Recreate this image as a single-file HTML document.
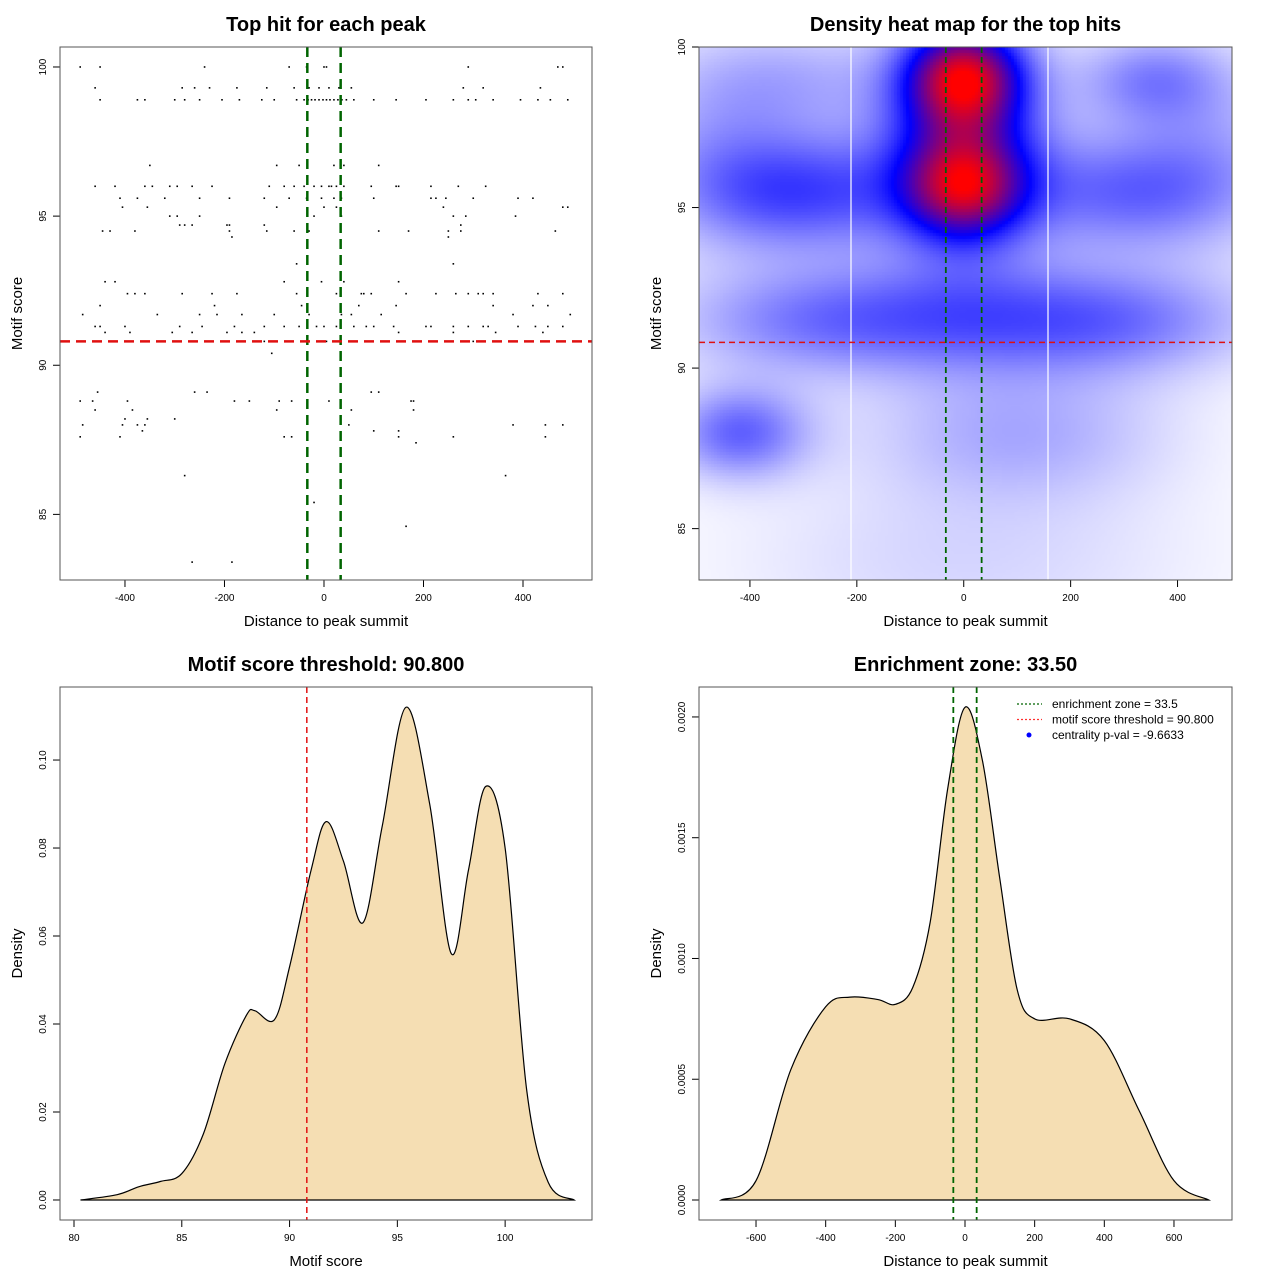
<!DOCTYPE html>
<html><head><meta charset="utf-8">
<style>
html,body{margin:0;padding:0;background:#fff;}
#wrap{position:relative;width:1280px;height:1280px;overflow:hidden;font-family:"Liberation Sans",sans-serif;}
#heat{position:absolute;left:699px;top:47px;width:533px;height:533px;}
svg{position:absolute;left:0;top:0;}
</style></head>
<body>
<div id="wrap">
<canvas id="heat" width="533" height="533"></canvas>
<svg id="svg" width="1280" height="1280" xmlns="http://www.w3.org/2000/svg"></svg>
</div>
<script>
// ---- scatter data (rows of motif score with distances) ----
const rowScores = [100,99.3,98.9,96.7,96,95.6,95.3,95,94.7,94.5,94.3,93.4,92.8,92.4,92,91.7,91.3,91.1,90.8,90.4,89.1,88.8,88.5,88.2,88,87.8,87.6,87.4,86.3,85.4,84.6,83.4];
const rowDistances = [
 [-490,-450,-240,-70,-35,0,5,290,470,480],
 [-460,-285,-260,-230,-175,-115,-60,-30,-10,10,30,55,280,320,435],
 [-450,-375,-360,-300,-280,-250,-205,-170,-125,-100,-55,-40,-32,-25,-18,-10,-2,5,12,20,28,36,45,60,100,145,205,260,290,305,340,395,430,455,490],
 [-350,-95,-50,20,40,110],
 [-460,-420,-360,-345,-310,-295,-265,-225,-110,-80,-60,-40,-20,-5,10,15,25,40,95,145,150,215,270,325],
 [-410,-375,-320,-250,-190,-120,-70,-35,-5,20,35,100,215,225,245,300,390,420],
 [-405,-355,-95,0,25,240,480,490],
 [-310,-295,-250,-20,35,260,285,385],
 [-290,-280,-265,-195,-190,-120,275],
 [-445,-430,-380,-190,-115,-60,-30,110,170,250,275,465],
 [-185,250],
 [-55,260],
 [-440,-420,-80,-5,40,150],
 [-395,-380,-360,-285,-225,-175,-55,25,75,80,95,165,225,265,290,310,320,340,430,480],
 [-450,-220,-45,70,145,340,420,450],
 [-485,-335,-250,-215,-165,-100,-30,35,55,115,380,495],
 [-460,-450,-400,-290,-245,-180,-120,-80,-50,-15,0,25,60,85,100,140,205,215,260,290,320,330,390,425,450,480],
 [-440,-390,-305,-265,-195,-165,-140,150,260,345,440],
 [-400,-270,-120,5,90,300,475],
 [-105],
 [-455,-260,-235,95,110],
 [-490,-465,-395,-180,-150,-90,-65,10,175,180],
 [-460,-385,-95,55,180],
 [-400,-355,-300],
 [-485,-405,-375,-360,50,380,445,480],
 [-365,100,150],
 [-490,-410,-80,-65,150,260,445],
 [185],
 [-280,365],
 [-20],
 [165],
 [-265,-185]
];
// ---- heatmap density blobs ----
const blobX = [0,0,0,-300,300,-250,250,0,-420,-320,350,100,0,-470,470];
const blobY = [99.1,95.6,97.3,95.5,95.5,91.5,91.5,92,88,99,99,88,84,97,97];
const blobW = [0.68,0.55,0.45,0.35,0.28,0.27,0.29,0.1,0.3,0.14,0.22,0.16,0.08,0.12,0.12];
const blobSX = [75,78,105,160,160,200,200,150,90,150,100,200,300,120,120];
const blobSY = [1.1,1.1,2.2,1.3,1.3,1.2,1.2,1.5,1.0,1.2,1.0,1.5,2.0,2.0,2.0];
// ---- motif score density ----
const scoreX = [80.3,82,83,84,85,86,87,88,88.4,89.3,90,91,91.7,92.5,93.4,94.3,95.4,96.5,97.5,98.3,99.1,100,101,102,103.2];
const scoreD = [0,0.0012,0.003,0.0042,0.006,0.015,0.031,0.042,0.043,0.041,0.053,0.075,0.086,0.077,0.063,0.085,0.112,0.09,0.056,0.075,0.094,0.08,0.025,0.004,0];
// ---- distance density ----
const distX = [-700,-600,-500,-400,-330,-250,-200,-150,-100,-50,0,50,100,150,200,300,400,500,600,700];
const distD = [0,0.00008,0.00054,0.0008,0.00084,0.00083,0.00081,0.00088,0.00115,0.0017,0.00204,0.00182,0.00133,0.00087,0.00075,0.00075,0.00066,0.00037,0.00008,0];
const xTicksDist = [-400,-200,0,200,400];
const xTicksDist2 = [-600,-400,-200,0,200,400,600];
const yTicksScore = [85,90,95,100];
const xTicksScore = [80,85,90,95,100];
const yTicksDens1 = [0,0.02,0.04,0.06,0.08,0.10];
const yTicksDens1Lbl = ["0.00","0.02","0.04","0.06","0.08","0.10"];
const yTicksDens2 = [0,0.0005,0.001,0.0015,0.002];
const yTicksDens2Lbl = ["0.0000","0.0005","0.0010","0.0015","0.0020"];
const zone = 33.5, thr = 90.8;

const NS="http://www.w3.org/2000/svg";
const svg=document.getElementById('svg');
function mk(tag,attrs,parent){const e=document.createElementNS(NS,tag);for(const k in attrs)e.setAttribute(k,attrs[k]);(parent||svg).appendChild(e);return e;}
function scale(d0,d1,r0,r1){return v=>r0+(v-d0)/(d1-d0)*(r1-r0);}

function frame(p,title,xlab,ylab,xt,xl,yt,yl,name){
  const g=mk('g',{});
  
  
  const t=mk('text',{x:(p.l+p.r)/2,y:p.t-16,'text-anchor':'middle','font-size':'20','font-weight':'bold',fill:'#000'},g);
  t.textContent=title;
  
  
  const xa=mk('text',{x:(p.l+p.r)/2,y:p.b+46,'text-anchor':'middle','font-size':'15',fill:'#000'},g);
  xa.textContent=xlab;
  
  
  const ya=mk('text',{x:0,y:0,transform:`translate(${p.l-38},${(p.t+p.b)/2}) rotate(-90)`,'text-anchor':'middle','font-size':'15',fill:'#000'},g);
  ya.textContent=ylab;
  
  
  const xg=mk('g',{},g);
  
  
  mk('line',{x1:p.sx(xt[0]),x2:p.sx(xt[xt.length-1]),y1:p.b,y2:p.b,stroke:'#000'},xg);
  xt.forEach((v,i)=>{const x=p.sx(v);mk('line',{x1:x,x2:x,y1:p.b,y2:p.b+7,stroke:'#000'},xg);
    const tx=mk('text',{x:x,y:p.b+21,'text-anchor':'middle','font-size':'10',fill:'#000'},xg);tx.textContent=xl[i];
    
    });
  const yg=mk('g',{},g);
  
  
  mk('line',{y1:p.sy(yt[0]),y2:p.sy(yt[yt.length-1]),x1:p.l,x2:p.l,stroke:'#000'},yg);
  yt.forEach((v,i)=>{const y=p.sy(v);mk('line',{y1:y,y2:y,x1:p.l,x2:p.l-7,stroke:'#000'},yg);
    const ty=mk('text',{x:0,y:0,transform:`translate(${p.l-14},${y}) rotate(-90)`,'text-anchor':'middle','font-size':'10',fill:'#000'},yg);ty.textContent=yl[i];
    
    });
  return g;
}
function box(p,g){const r=mk('rect',{x:p.l,y:p.t,width:p.r-p.l,height:p.b-p.t,fill:'none',stroke:'#555'},g);
  
  }
function smoothPath(pts){let d=`M${pts[0][0]},${pts[0][1]}`;
  for(let i=0;i<pts.length-1;i++){const p0=pts[Math.max(0,i-1)],p1=pts[i],p2=pts[i+1],p3=pts[Math.min(pts.length-1,i+2)];
    const c1=[p1[0]+(p2[0]-p0[0])/6,p1[1]+(p2[1]-p0[1])/6],c2=[p2[0]-(p3[0]-p1[0])/6,p2[1]-(p3[1]-p1[1])/6];
    d+=` C${c1[0]},${c1[1]} ${c2[0]},${c2[1]} ${p2[0]},${p2[1]}`;}
  return d;}

// Panel 1: scatter
const p1={l:60,r:592,t:47,b:580};p1.sx=scale(-530.6,538.7,60,592);p1.sy=scale(82.8,100.67,580,47);
const g1=frame(p1,'Top hit for each peak','Distance to peak summit','Motif score',xTicksDist,xTicksDist,yTicksScore,yTicksScore,'scatter-panel');
rowScores.forEach((s,i)=>rowDistances[i].forEach(d=>{const c=mk('rect',{x:p1.sx(d)-0.8,y:p1.sy(s)-0.8,width:1.6,height:1.6,fill:'#000'},g1);
  
  }));
[-zone,zone].forEach(z=>{const l=mk('line',{x1:p1.sx(z),x2:p1.sx(z),y1:p1.t,y2:p1.b,stroke:'#006400','stroke-width':2.5,'stroke-dasharray':'10,6'},g1);
  
  });
const rl1=mk('line',{x1:p1.l,x2:p1.r,y1:p1.sy(thr),y2:p1.sy(thr),stroke:'#e01010','stroke-width':2.5,'stroke-dasharray':'10,6'},g1);


box(p1,g1);

// Panel 2: heatmap
const p2={l:699,r:1232,t:47,b:580};p2.sx=scale(-495.3,501.9,699,1232);p2.sy=scale(83.4,100,580,47);
const g2=frame(p2,'Density heat map for the top hits','Distance to peak summit','Motif score',xTicksDist,xTicksDist,yTicksScore,yTicksScore,'heatmap-panel');
(function(){const cv=document.getElementById('heat');const ctx=cv.getContext('2d');const W=533,H=533;const img=ctx.createImageData(W,H);
  const xs=scale(699,1232,-495.3,501.9),ys=scale(47,580,100,83.4);
  const step=3;
  for(let py=0;py<H;py+=step)for(let px=0;px<W;px+=step){const X=xs(699+px+1),Y=ys(47+py+1);let d=0;
    for(let k=0;k<blobX.length;k++){const dx=(X-blobX[k])/blobSX[k],dy=(Y-blobY[k])/blobSY[k];d+=blobW[k]*Math.exp(-0.5*(dx*dx+dy*dy));}
    const t=Math.min(1,d);let r,g,b;
    if(t<0.5){const s=t/0.5;r=255*(1-s);g=255*(1-s);b=255;}else{const s=(t-0.5)/0.5;r=255*s;g=0;b=255*(1-s);}
    for(let yy=py;yy<Math.min(H,py+step);yy++)for(let xx=px;xx<Math.min(W,px+step);xx++){const o=(yy*W+xx)*4;img.data[o]=r;img.data[o+1]=g;img.data[o+2]=b;img.data[o+3]=255;}}
  ctx.putImageData(img,0,0);})();
[851,1048].forEach(x=>{const l=mk('line',{x1:x,x2:x,y1:p2.t,y2:p2.b,stroke:'#fff','stroke-width':1.2},g2);
  
  });
[-zone,zone].forEach(z=>{const l=mk('line',{x1:p2.sx(z),x2:p2.sx(z),y1:p2.t,y2:p2.b,stroke:'#006400','stroke-width':1.8,'stroke-dasharray':'6,4'},g2);
  
  });
const rl2=mk('line',{x1:p2.l,x2:p2.r,y1:p2.sy(thr),y2:p2.sy(thr),stroke:'#e01010','stroke-width':1.5,'stroke-dasharray':'6,4'},g2);


box(p2,g2);

// Panel 3: motif score density
const p3={l:60,r:592,t:687,b:1220};p3.sx=scale(79.35,104.03,60,592);p3.sy=scale(-0.00455,0.1166,1220,687);
const g3=frame(p3,'Motif score threshold: 90.800','Motif score','Density',xTicksScore,xTicksScore,yTicksDens1,yTicksDens1Lbl,'score-density-panel');
const pts3=scoreX.map((v,i)=>[p3.sx(v),p3.sy(scoreD[i])]);
const a3=mk('path',{d:smoothPath(pts3)+' Z',fill:'#f5deb3',stroke:'#000','stroke-width':1.2},g3);


const rl3=mk('line',{x1:p3.sx(thr),x2:p3.sx(thr),y1:p3.t,y2:p3.b,stroke:'#e01010','stroke-width':1.5,'stroke-dasharray':'6,4'},g3);


box(p3,g3);

// Panel 4: distance density
const p4={l:699,r:1232,t:687,b:1220};p4.sx=scale(-763.7,766.6,699,1232);p4.sy=scale(-0.0000828,0.002124,1220,687);
const g4=frame(p4,'Enrichment zone: 33.50','Distance to peak summit','Density',xTicksDist2,xTicksDist2,yTicksDens2,yTicksDens2Lbl,'distance-density-panel');
const pts4=distX.map((v,i)=>[p4.sx(v),p4.sy(distD[i])]);
const a4=mk('path',{d:smoothPath(pts4)+' Z',fill:'#f5deb3',stroke:'#000','stroke-width':1.2},g4);


[-zone,zone].forEach(z=>{const l=mk('line',{x1:p4.sx(z),x2:p4.sx(z),y1:p4.t,y2:p4.b,stroke:'#006400','stroke-width':1.8,'stroke-dasharray':'6,4'},g4);
  
  });
box(p4,g4);
const lg=mk('g',{},g4);


const legTxt=['enrichment zone = 33.5','motif score threshold = 90.800','centrality p-val = -9.6633'];
const legCol=['#006400','#ff3030','#0000ff'];
legTxt.forEach((s,i)=>{const y=704+i*15.5;
  if(i<2){mk('line',{x1:1017,x2:1042,y1:y,y2:y,stroke:legCol[i],'stroke-width':1.2,'stroke-dasharray':'2,2'},lg);}
  else{mk('circle',{cx:1029,cy:y,r:2.5,fill:legCol[i]},lg);}
  const t=mk('text',{x:1052,y:y+4,'font-size':'12',fill:'#000'},lg);t.textContent=s;
  
  });
</script>
</body></html>
